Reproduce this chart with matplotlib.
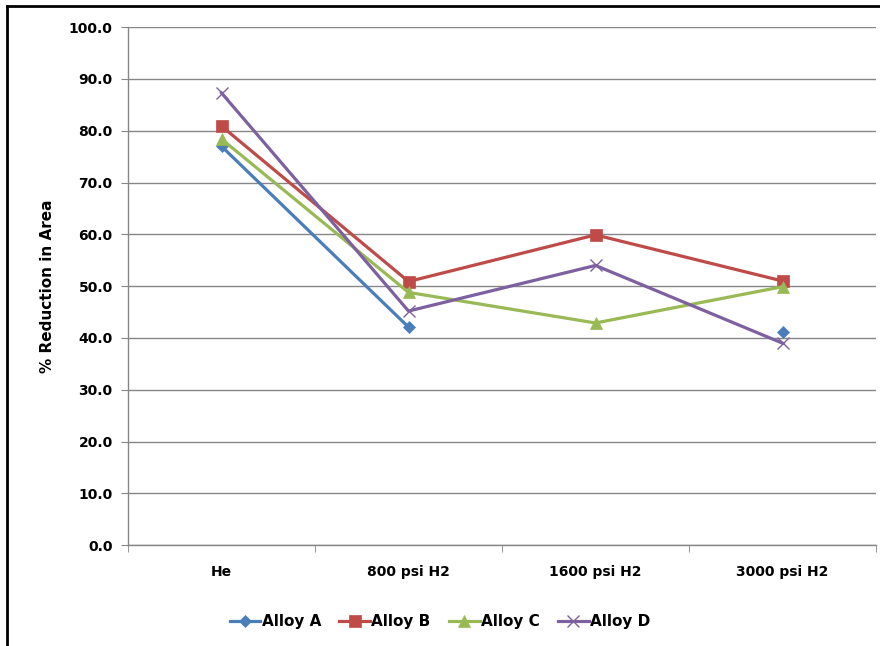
import matplotlib
matplotlib.use('Agg')
import matplotlib.pyplot as plt
import numpy as np
from matplotlib.lines import Line2D

categories = ['He', '800 psi H2', '1600 psi H2', '3000 psi H2']
alloyA = [77.0, 42.1, np.nan, 41.1]
alloyB = [80.9, 50.9, 59.9, 51.0]
alloyC = [78.4, 48.8, 42.9, 49.9]
alloyD = [87.3, 45.2, 54.0, 39.0]

series = [
    ('Alloy A', alloyA, '#4A7EBB', 'D', 6),
    ('Alloy B', alloyB, '#BE4B48', 's', 8),
    ('Alloy C', alloyC, '#98B954', '^', 8),
    ('Alloy D', alloyD, '#7D60A0', 'x', 8),
]

fig = plt.figure(figsize=(8.8, 6.46), dpi=100)
ax = fig.add_axes([128 / 880, 0.156, 748 / 880, 0.802])

x = np.arange(len(categories))
handles = []
for name, vals, col, mk, ms in series:
    h, = ax.plot(x, vals, color=col, lw=2.3, marker=mk, markersize=ms,
                 markerfacecolor=col, markeredgecolor=col,
                 markeredgewidth=1.0 if mk == 'x' else 0.5, label=name)
    handles.append(h)

ax.set_ylim(0, 100)
ax.set_xlim(-0.5, 3.5)
ax.set_yticks(np.arange(0, 101, 10))
ax.set_yticklabels(['%.1f' % v for v in np.arange(0, 101, 10)],
                   fontsize=10, fontweight='bold')
ax.set_xticks(x)
ax.set_xticklabels(categories, fontsize=10, fontweight='bold')
ax.set_xticks(np.arange(-0.5, 3.6, 1), minor=True)
ax.tick_params(axis='x', which='major', length=0, pad=14)
ax.tick_params(axis='x', which='minor', length=5, color='#868686', direction='out')
ax.tick_params(axis='y', length=5, color='#868686', direction='out', pad=6)

ax.grid(axis='y', color='#868686', lw=1.0)
ax.set_axisbelow(True)
for s in ['top', 'right']:
    ax.spines[s].set_visible(False)
for s in ['left', 'bottom']:
    ax.spines[s].set_color('#868686')
    ax.spines[s].set_linewidth(1.0)

ax.set_ylabel('% Reduction in Area', fontsize=11, fontweight='bold', labelpad=10)

fig.legend(handles=handles, loc='center', bbox_to_anchor=(0.5, 0.038), ncol=4,
           frameon=False, prop={'weight': 'bold', 'size': 11},
           handlelength=2.0, handletextpad=0.1, columnspacing=1.2)

# outer frame (left and top edges visible)
fig.add_artist(Line2D([7 / 880, 7 / 880], [0, 1 - 6 / 646], transform=fig.transFigure,
                      color='black', lw=2.0))
fig.add_artist(Line2D([7 / 880, 1], [1 - 6 / 646, 1 - 6 / 646], transform=fig.transFigure,
                      color='black', lw=2.0))

fig.savefig('out.png', dpi=100)
